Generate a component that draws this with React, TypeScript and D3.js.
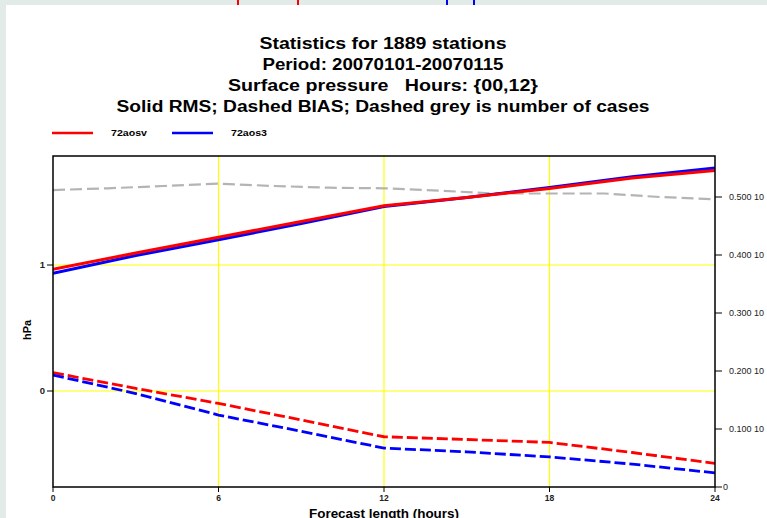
import React, { useEffect, useRef } from "react";
import * as d3 from "d3";

// forecast hours and values
const hours = [0, 3, 6, 9, 12, 15, 18, 21, 24];
const rmsOsv = [0.967, 1.095, 1.22, 1.345, 1.47, 1.535, 1.607, 1.69, 1.75];
const rmsOs3 = [0.935, 1.075, 1.2, 1.33, 1.465, 1.535, 1.615, 1.7, 1.77];
const biasOsv = [0.146, 0.02, -0.098, -0.23, -0.363, -0.385, -0.408, -0.488, -0.575];
const biasOs3 = [0.127, -0.02, -0.191, -0.32, -0.453, -0.483, -0.523, -0.58, -0.65];
const caseHours = [0, 2, 4, 6, 8, 10, 12, 14, 16, 18, 20, 22, 24];
const cases = [0.512, 0.515, 0.519, 0.523, 0.519, 0.516, 0.515, 0.511, 0.506, 0.506, 0.506, 0.5, 0.496];

const xTicks = [0, 6, 12, 18, 24];
const leftTicks = [0, 1];
const rightTicks = [0.1, 0.2, 0.3, 0.4, 0.5];
const series = ["72aosv", "72aos3"];
const colors = ["#ff0000", "#0000ff"];
const titleLines = [
  "Statistics for 1889 stations",
  "Period: 20070101-20070115",
  "Surface pressure   Hours: {00,12}",
  "Solid RMS; Dashed BIAS; Dashed grey is number of cases",
];
// rendered widths of the title lines in the reference (the font there is wide)
const titleWidths = [247, 241, 310, 533];

const W = 767;
const H = 518;

export default function App() {
  const ref = useRef<SVGSVGElement>(null);

  useEffect(() => {
    const svg = d3.select(ref.current);
    svg.selectAll("*").remove();
    const font = "Liberation Sans, Arial, sans-serif";

    svg.append("rect").attr("width", W).attr("height", H).attr("fill", "#e2ebe8");
    svg.append("rect").attr("x", 6).attr("y", 5).attr("width", W - 6).attr("height", H - 5).attr("fill", "#fff");

    // bits of the panel above
    [[238, "#ff0000"], [298, "#ff0000"], [447, "#0000ff"], [474, "#0000ff"]].forEach(([x, c]) => {
      svg.append("rect").attr("x", (x as number) - 1).attr("y", 0).attr("width", 2).attr("height", 5).attr("fill", c as string);
    });

    const left = 53, right = 715, top = 156, bottom = 487;
    const x = d3.scaleLinear().domain([0, 24]).range([left, right]);
    const y = d3.scaleLinear().domain([0, 1]).range([391, 265]);
    const y2 = d3.scaleLinear().domain([0, 0.1]).range([bottom, 429]);

    // titles
    titleLines.forEach((t, i) => {
      svg.append("text")
        .attr("x", 383 - titleWidths[i] / 2).attr("y", 49 + i * 21)
        .attr("textLength", titleWidths[i]).attr("lengthAdjust", "spacingAndGlyphs")
        .style("white-space", "pre")
        .attr("font-family", font).attr("font-weight", "bold").attr("font-size", 16)
        .text(t);
    });

    // legend
    series.forEach((s, i) => {
      const lx = 52 + i * 120;
      svg.append("line").attr("x1", lx).attr("x2", lx + 41).attr("y1", 133).attr("y2", 133)
        .attr("stroke", colors[i]).attr("stroke-width", 2.5);
      svg.append("text").attr("x", lx + 59).attr("y", 136)
        .attr("textLength", 36).attr("lengthAdjust", "spacingAndGlyphs")
        .attr("font-family", font).attr("font-weight", "bold").attr("font-size", 8.5)
        .text(s);
    });

    const g = svg.append("g");

    // yellow grid
    xTicks.filter((d) => d > 0 && d < 24).forEach((d) => {
      g.append("line").attr("x1", x(d)).attr("x2", x(d)).attr("y1", top).attr("y2", bottom)
        .attr("stroke", "#ffff00").attr("stroke-width", 1.2);
    });
    leftTicks.forEach((d) => {
      g.append("line").attr("x1", left).attr("x2", right).attr("y1", y(d)).attr("y2", y(d))
        .attr("stroke", "#ffff00").attr("stroke-width", 1.2);
    });

    const clip = svg.append("defs").append("clipPath").attr("id", "plot");
    clip.append("rect").attr("x", left).attr("y", top).attr("width", right - left).attr("height", bottom - top);
    const lines = g.append("g").attr("clip-path", "url(#plot)");

    const line = d3.line<number>().x((_, i) => x(hours[i])).y((d) => y(d));
    const caseLine = d3.line<number>().x((_, i) => x(caseHours[i])).y((d) => y2(d));

    lines.append("path").datum(cases).attr("d", caseLine).attr("fill", "none")
      .attr("stroke", "#b4b4b4").attr("stroke-width", 2.2).attr("stroke-dasharray", "12,5");

    [biasOsv, biasOs3].forEach((d, i) => {
      lines.append("path").datum(d).attr("d", line).attr("fill", "none")
        .attr("stroke", colors[i]).attr("stroke-width", 2.8).attr("stroke-dasharray", "11,4");
    });
    [rmsOs3, rmsOsv].forEach((d, i) => {
      lines.append("path").datum(d).attr("d", line).attr("fill", "none")
        .attr("stroke", colors[1 - i]).attr("stroke-width", 3);
    });

    // frame
    g.append("rect").attr("x", left).attr("y", top).attr("width", right - left).attr("height", bottom - top)
      .attr("fill", "none").attr("stroke", "#000").attr("stroke-width", 1.5);

    // left axis
    leftTicks.forEach((d) => {
      g.append("line").attr("x1", left - 6).attr("x2", left).attr("y1", y(d)).attr("y2", y(d)).attr("stroke", "#000");
      g.append("text").attr("x", left - 8).attr("y", y(d) + 3).attr("text-anchor", "end")
        .attr("font-family", font).attr("font-weight", "bold").attr("font-size", 9.5).attr("fill", "#222")
        .text(d3.format("d")(d));
    });
    g.append("text").attr("transform", `translate(31,330) rotate(-90)`).attr("text-anchor", "middle")
      .attr("font-family", font).attr("font-weight", "bold").attr("font-size", 11).text("hPa");

    // bottom axis
    xTicks.forEach((d) => {
      g.append("line").attr("x1", x(d)).attr("x2", x(d)).attr("y1", bottom).attr("y2", bottom + 5).attr("stroke", "#000");
      g.append("text").attr("x", x(d)).attr("y", bottom + 14).attr("text-anchor", "middle")
        .attr("font-family", font).attr("font-weight", "bold").attr("font-size", 8.5).attr("fill", "#222")
        .text(d);
    });
    g.append("text").attr("x", 309).attr("y", 518)
      .attr("textLength", 150).attr("lengthAdjust", "spacingAndGlyphs")
      .attr("font-family", font).attr("font-weight", "bold").attr("font-size", 12).text("Forecast length (hours)");

    // right axis
    g.append("line").attr("x1", right).attr("x2", right + 7).attr("y1", bottom).attr("y2", bottom).attr("stroke", "#000");
    g.append("text").attr("x", right + 8).attr("y", bottom + 3).attr("font-family", font)
      .attr("font-size", 9).attr("fill", "#222").text("0");
    rightTicks.forEach((d) => {
      g.append("line").attr("x1", right).attr("x2", right + 7).attr("y1", y2(d)).attr("y2", y2(d)).attr("stroke", "#000");
      g.append("text").attr("x", right + 14).attr("y", y2(d) + 3).attr("font-family", font)
        .attr("font-size", 9).attr("fill", "#222").text(d3.format(".3f")(d) + " 10");
    });
  }, []);

  return (
    <svg ref={ref} width={W} height={H} style={{ position: "fixed", left: 0, top: 0, display: "block" }} />
  );
}
